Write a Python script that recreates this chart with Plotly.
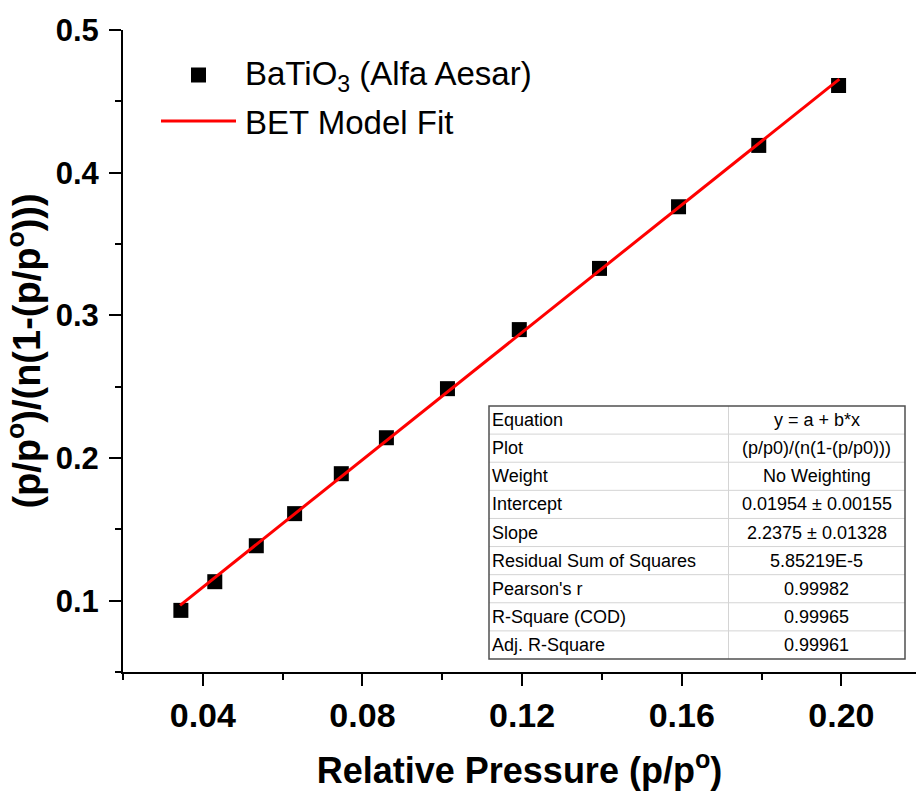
import plotly.graph_objects as go

# ---- data ----
rel_pressure = [0.0345, 0.0430, 0.0534, 0.0630, 0.0747, 0.0860, 0.1013, 0.1193,
                0.1394, 0.1592, 0.1793, 0.1993]
bet_value = [0.0932, 0.1133, 0.1385, 0.1610, 0.1890, 0.2142, 0.2486, 0.2900,
             0.3329, 0.3761, 0.4191, 0.4611]
fit_x = [0.0343, 0.1995]
fit_y = [0.0967, 0.4656]

x_major = [0.04, 0.08, 0.12, 0.16, 0.20]
x_major_text = ["0.04", "0.08", "0.12", "0.16", "0.20"]
x_minor = [0.02, 0.06, 0.10, 0.14, 0.18]
y_major = [0.1, 0.2, 0.3, 0.4, 0.5]
y_major_text = ["0.1", "0.2", "0.3", "0.4", "0.5"]
y_minor = [0.05, 0.15, 0.25, 0.35, 0.45]

table_labels = ["Equation", "Plot", "Weight", "Intercept", "Slope",
                "Residual Sum of Squares", "Pearson's r", "R-Square (COD)",
                "Adj. R-Square"]
table_values = ["y = a + b*x", "(p/p0)/(n(1-(p/p0)))", "No Weighting",
                "0.01954 \u00b1 0.00155", "2.2375 \u00b1 0.01328", "5.85219E-5",
                "0.99982", "0.99965", "0.99961"]

series_name = "BaTiO<sub>3</sub> (Alfa Aesar)"
fit_name = "BET Model Fit"

# ---- layout geometry ----
W, H = 916, 791
ML, MR, MT, MB = 123, 0, 30, 119
PW, PH = W - ML - MR, H - MT - MB


def px(xp):
    return (xp - ML) / PW


def py(yp):
    return (H - MB - yp) / PH


BOLD = "Liberation Sans, Arial, sans-serif"
NARROW = "Liberation Sans Narrow, Arial Narrow, Liberation Sans, Arial, sans-serif"
REG = "Liberation Sans, Arial, sans-serif"

fig = go.Figure()
fig.add_trace(go.Scatter(
    x=rel_pressure, y=bet_value, mode="markers",
    marker=dict(symbol="square", size=15, color="black"),
    showlegend=False, cliponaxis=False))
fig.add_trace(go.Scatter(
    x=fit_x, y=fit_y, mode="lines",
    line=dict(color="#ff0000", width=3),
    showlegend=False, cliponaxis=False))

shapes = []
annotations = []

# custom legend
shapes.append(dict(type="rect", xref="paper", yref="paper",
                   x0=px(191), x1=px(206), y0=py(82.5), y1=py(67.5),
                   fillcolor="black", line=dict(width=0)))
shapes.append(dict(type="line", xref="paper", yref="paper",
                   x0=px(161), x1=px(236), y0=py(121), y1=py(121),
                   line=dict(color="#ff0000", width=3)))
annotations.append(dict(xref="paper", yref="paper", x=px(243), y=py(76),
                        xanchor="left", yanchor="middle", showarrow=False,
                        text=series_name,
                        font=dict(family=REG, size=33, color="black")))
annotations.append(dict(xref="paper", yref="paper", x=px(243), y=py(122),
                        xanchor="left", yanchor="middle", showarrow=False,
                        text=fit_name,
                        font=dict(family=REG, size=33, color="black")))

# table
tl, tr, tt, tb = 489, 905, 406, 659
tc = 728.5
nrows = len(table_labels)
rh = (tb - tt) / nrows
for i in range(1, nrows):
    yy = tt + i * rh
    shapes.append(dict(type="line", xref="paper", yref="paper",
                       x0=px(tl), x1=px(tr), y0=py(yy), y1=py(yy),
                       line=dict(color="#d4d4d4", width=1)))
shapes.append(dict(type="line", xref="paper", yref="paper",
                   x0=px(tc), x1=px(tc), y0=py(tt), y1=py(tb),
                   line=dict(color="#d4d4d4", width=1)))
shapes.append(dict(type="rect", xref="paper", yref="paper",
                   x0=px(tl), x1=px(tr), y0=py(tb), y1=py(tt),
                   line=dict(color="#505050", width=1.5)))
for i, (lab, val) in enumerate(zip(table_labels, table_values)):
    yc = tt + (i + 0.5) * rh
    annotations.append(dict(xref="paper", yref="paper", x=px(tl + 1), y=py(yc),
                            xanchor="left", yanchor="middle", showarrow=False,
                            text=lab, font=dict(family=REG, size=18, color="black")))
    annotations.append(dict(xref="paper", yref="paper", x=px((tc + tr) / 2), y=py(yc),
                            xanchor="center", yanchor="middle", showarrow=False,
                            text=val, font=dict(family=REG, size=18, color="black")))

fig.update_layout(
    width=W, height=H, autosize=False,
    margin=dict(l=ML, r=MR, t=MT, b=MB, pad=0),
    paper_bgcolor="white", plot_bgcolor="white",
    showlegend=False,
    shapes=shapes, annotations=annotations,
    xaxis=dict(
        range=[0.02, 0.2187], showgrid=False, zeroline=False,
        showline=True, linecolor="black", linewidth=2,
        tickmode="array", tickvals=x_major, ticktext=x_major_text,
        ticks="outside", ticklen=12, tickwidth=2, tickcolor="black",
        minor=dict(tickmode="array", tickvals=x_minor, ticks="outside",
                   ticklen=6, tickwidth=2, tickcolor="black", showgrid=False),
        tickfont=dict(family=NARROW, size=34, color="black", weight="bold"),
        title=dict(text="Relative Pressure (p/p<sup>o</sup>)", standoff=26,
                   font=dict(family=NARROW, size=36, color="black", weight="bold")),
    ),
    yaxis=dict(
        range=[0.05, 0.5], showgrid=False, zeroline=False,
        showline=True, linecolor="black", linewidth=2,
        tickmode="array", tickvals=y_major, ticktext=y_major_text,
        ticks="outside", ticklen=12, tickwidth=2, tickcolor="black",
        ticklabelstandoff=4,
        minor=dict(tickmode="array", tickvals=y_minor, ticks="outside",
                   ticklen=6, tickwidth=2, tickcolor="black", showgrid=False),
        tickfont=dict(family=BOLD, size=31, color="black", weight="bold"),
        title=dict(text="(p/p<sup>o</sup>)/(n(1-(p/p<sup>o</sup>)))", standoff=4,
                   font=dict(family=BOLD, size=38, color="black", weight="bold")),
    ),
)

fig.write_html("out.html")
